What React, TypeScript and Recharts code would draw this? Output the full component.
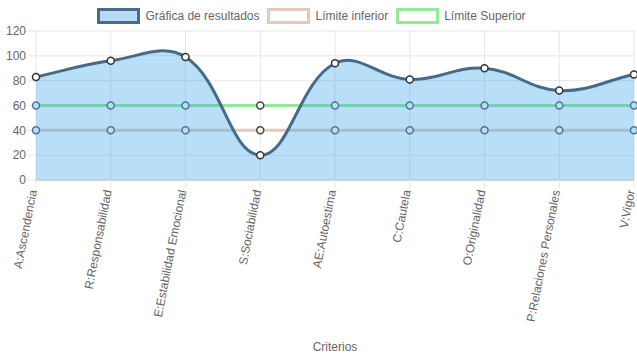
import React from 'react';
import {
  ComposedChart, Area, XAxis, YAxis, CartesianGrid,
} from 'recharts';

const criterios = [
  'A:Ascendencia', 'R:Responsabilidad', 'E:Estabilidad Emocional', 'S:Sociabilidad',
  'AE:Autoestima', 'C:Cautela', 'O:Originalidad', 'P:Relaciones Personales', 'V:Vigor',
];
const resultados = [83, 96, 99, 20, 94, 81, 90, 72, 85];
const limiteInferior = [40, 40, 40, 40, 40, 40, 40, 40, 40];
const limiteSuperior = [60, 60, 60, 60, 60, 60, 60, 60, 60];
const yTicks = [0, 20, 40, 60, 80, 100, 120];

const data = criterios.map((name, i) => ({
  name,
  resultados: resultados[i],
  inferior: limiteInferior[i],
  superior: limiteSuperior[i],
}));

const FONT = '"Liberation Sans", Arial, Helvetica, sans-serif';

// bezier spline like chart.js (tension 0.4)
const splineCurve = (tension: number) => (context: any) => {
  let pts: [number, number][] = [];
  let line = NaN;
  return {
    areaStart() { line = 0; },
    areaEnd() { line = NaN; },
    lineStart() { pts = []; },
    lineEnd() {
      const n = pts.length;
      if (n) {
        if (line) context.lineTo(pts[0][0], pts[0][1]);
        else context.moveTo(pts[0][0], pts[0][1]);
        const cps = pts.map((cur, i) => {
          const prev = pts[i - 1] || cur;
          const next = pts[i + 1] || cur;
          const d01 = Math.hypot(cur[0] - prev[0], cur[1] - prev[1]);
          const d12 = Math.hypot(next[0] - cur[0], next[1] - cur[1]);
          let s01 = d01 / (d01 + d12);
          let s12 = d12 / (d01 + d12);
          if (isNaN(s01)) s01 = 0;
          if (isNaN(s12)) s12 = 0;
          const fa = tension * s01;
          const fb = tension * s12;
          return {
            px: cur[0] - fa * (next[0] - prev[0]), py: cur[1] - fa * (next[1] - prev[1]),
            nx: cur[0] + fb * (next[0] - prev[0]), ny: cur[1] + fb * (next[1] - prev[1]),
          };
        });
        for (let i = 1; i < n; i++) {
          context.bezierCurveTo(cps[i - 1].nx, cps[i - 1].ny, cps[i].px, cps[i].py, pts[i][0], pts[i][1]);
        }
      }
      if (line || (line !== 0 && n === 1)) context.closePath();
      line = 1 - line;
    },
    point(x: number, y: number) { pts.push([+x, +y]); },
  };
};

const XTick = ({ x, y, payload }: any) => (
  <text
    x={x - 3} y={y}
    transform={`rotate(-79 ${x - 3} ${y})`}
    textAnchor="end" dominantBaseline="central"
    fill="#666" fontSize={12} fontFamily={FONT}
  >
    {payload.value}
  </text>
);

const legendItems = [
  { label: 'Gráfica de resultados', fill: '#b9daf7', border: '#4a6b8a' },
  { label: 'Límite inferior', fill: '#ffffff', border: '#e3c9be' },
  { label: 'Límite Superior', fill: '#ffffff', border: '#93ea93' },
];

const dot = { r: 3.5, fill: '#fff', fillOpacity: 1, stroke: '#333', strokeWidth: 1.5 };

// limit points sit under the translucent result fill when below the result value
const LimitDot = (props: any) => {
  const { cx, cy, index, value } = props;
  const v = Array.isArray(value) ? value[1] : value;
  const covered = resultados[index] > v;
  return (
    <circle
      key={`d-${index}`} cx={cx} cy={cy} r={3.5} strokeWidth={1.5}
      fill={covered ? '#b9def8' : '#fff'} stroke={covered ? '#4f7494' : '#444'}
    />
  );
};

export default function App() {
  return (
    <div style={{ position: 'relative', width: 637, height: 359, fontFamily: FONT }}>
      <style>{'body{margin:0}'}</style>
      <div style={{
        position: 'absolute', top: 8, left: 0, width: 631, display: 'flex',
        justifyContent: 'center', alignItems: 'center', fontSize: 12, color: '#666',
      }}>
        {legendItems.map((it) => (
          <div key={it.label} style={{ display: 'flex', alignItems: 'center', marginRight: 8 }}>
            <div style={{
              width: 37, height: 10, background: it.fill,
              border: `3px solid ${it.border}`, marginRight: 5, boxSizing: 'content-box',
            }} />
            <span>{it.label}</span>
          </div>
        ))}
      </div>
      <ComposedChart
        width={637} height={359} data={data}
        margin={{ top: 31, right: 3, left: 0, bottom: 0 }}
      >
        <CartesianGrid stroke="#e6e6e6" />
        <XAxis
          dataKey="name" interval={0} height={179}
          tick={<XTick />} tickSize={8} tickMargin={2}
          tickLine={{ stroke: '#e6e6e6' }}
          axisLine={{ stroke: '#d0d0d0', strokeWidth: 2 }}
          label={{ value: 'Criterios', position: 'insideBottom', offset: 8, fill: '#666', fontSize: 12, fontFamily: FONT }}
        />
        <YAxis
          width={36} domain={[0, 120]} ticks={yTicks} interval={0}
          tickSize={8} tickMargin={2}
          tick={{ fill: '#666', fontSize: 12, fontFamily: FONT }}
          tickLine={{ stroke: '#e6e6e6' }} axisLine={false}
        />
        <Area
          type="linear" dataKey="inferior" stroke="#e3c9be" strokeWidth={3}
          fill="none" dot={LimitDot} activeDot={false} isAnimationActive={false}
        />
        <Area
          type="linear" dataKey="superior" stroke="#93ea93" strokeWidth={3}
          fill="none" dot={LimitDot} activeDot={false} isAnimationActive={false}
        />
        <Area
          type={splineCurve(0.4) as any} dataKey="resultados"
          stroke="#456a8a" strokeWidth={3}
          fill="rgb(54,162,235)" fillOpacity={0.35}
          dot={dot} activeDot={false} isAnimationActive={false}
        />
      </ComposedChart>
    </div>
  );
}
